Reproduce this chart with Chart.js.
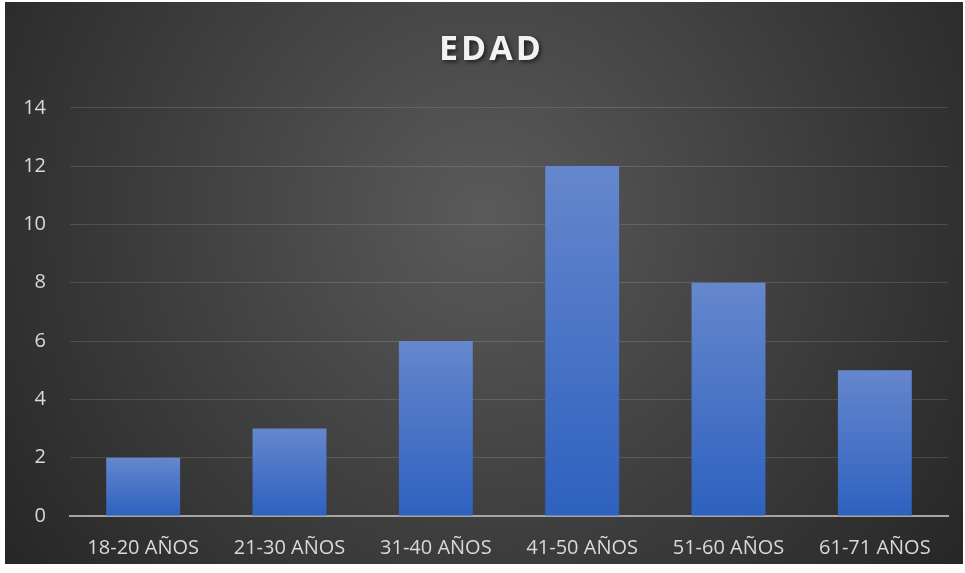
<!DOCTYPE html>
<html>
<head>
<meta charset="utf-8">
<script src="https://cdn.jsdelivr.net/npm/chart.js@4.4.1/dist/chart.umd.min.js"></script>
<style>
html,body{margin:0;padding:0;background:#ffffff;}
#wrap{position:absolute;left:5px;top:2px;width:958px;height:562px;}
</style>
</head>
<body>
<div id="wrap"><canvas id="c"></canvas></div>
<script>
const chartTitle = 'EDAD';
const categories = ['18-20 AÑOS','21-30 AÑOS','31-40 AÑOS','41-50 AÑOS','51-60 AÑOS','61-71 AÑOS'];
const counts = [2, 3, 6, 12, 8, 5];
const yMin = 0, yMax = 14, yStep = 2;

const FONT = "'Open Sans', 'Liberation Sans', sans-serif";

const bgPlugin = {
  id: 'bg',
  beforeDraw(chart) {
    const {ctx, width, height} = chart;
    ctx.save();
    const g = ctx.createRadialGradient(width*0.5, height*0.38, 0, width*0.5, height*0.38, width*0.62);
    g.addColorStop(0, '#5a5a5a');
    g.addColorStop(1, '#262626');
    ctx.fillStyle = g;
    ctx.fillRect(0, 0, width, height);
    ctx.restore();
    const tb = chart.titleBlock;
    if (tb && !tb._fx) {
      const orig = tb.draw;
      tb.draw = function(area) {
        const c = this.ctx || chart.ctx;
        c.save();
        c.translate(15, 0);
        c.letterSpacing = '3px';
        c.shadowColor = 'rgba(0,0,0,0.6)';
        c.shadowBlur = 4;
        c.shadowOffsetX = 2;
        c.shadowOffsetY = 2;
        orig.call(this, area);
        c.restore();
      };
      tb._fx = true;
    }
  }
};

function barGradient(context) {
  const chart = context.chart;
  const area = chart.chartArea;
  if (!area) return '#4472c4';
  const y = chart.scales.y;
  const top = y.getPixelForValue(context.raw);
  const bottom = y.getPixelForValue(0);
  const g = chart.ctx.createLinearGradient(0, top, 0, bottom);
  g.addColorStop(0, '#6587cd');
  g.addColorStop(1, '#2e61bf');
  return g;
}

new Chart(document.getElementById('c'), {
  type: 'bar',
  data: {
    labels: categories,
    datasets: [{
      data: counts,
      backgroundColor: barGradient,
      borderWidth: 0,
      barPercentage: 0.505,
      categoryPercentage: 1.0
    }]
  },
  options: {
    responsive: true,
    maintainAspectRatio: false,
    animation: false,
    layout: { padding: { left: 0, right: 15, top: 0, bottom: 0 } },
    plugins: {
      legend: { display: false },
      tooltip: { enabled: false },
      title: {
        display: true,
        text: chartTitle,
        color: '#f2f2f2',
        font: { family: FONT, size: 34, weight: 'bold', lineHeight: 1.2 },
        padding: { top: 28, bottom: 37 }
      }
    },
    scales: {
      x: {
        grid: { display: false, drawTicks: false },
        border: { display: true, color: '#a6a6a6', width: 2 },
        ticks: { color: '#d9d9d9', font: { family: FONT, size: 20 }, padding: 20, maxRotation: 0 },
        afterFit(scale) { scale.height = 48; }
      },
      y: {
        min: yMin,
        max: yMax,
        ticks: { stepSize: yStep, color: '#d9d9d9', font: { family: FONT, size: 20 }, padding: 24 },
        grid: { color: 'rgba(255,255,255,0.13)', lineWidth: 1, drawTicks: false },
        border: { display: false },
        afterFit(scale) { scale.width = 65; }
      }
    }
  },
  plugins: [bgPlugin]
});
</script>
</body>
</html>
